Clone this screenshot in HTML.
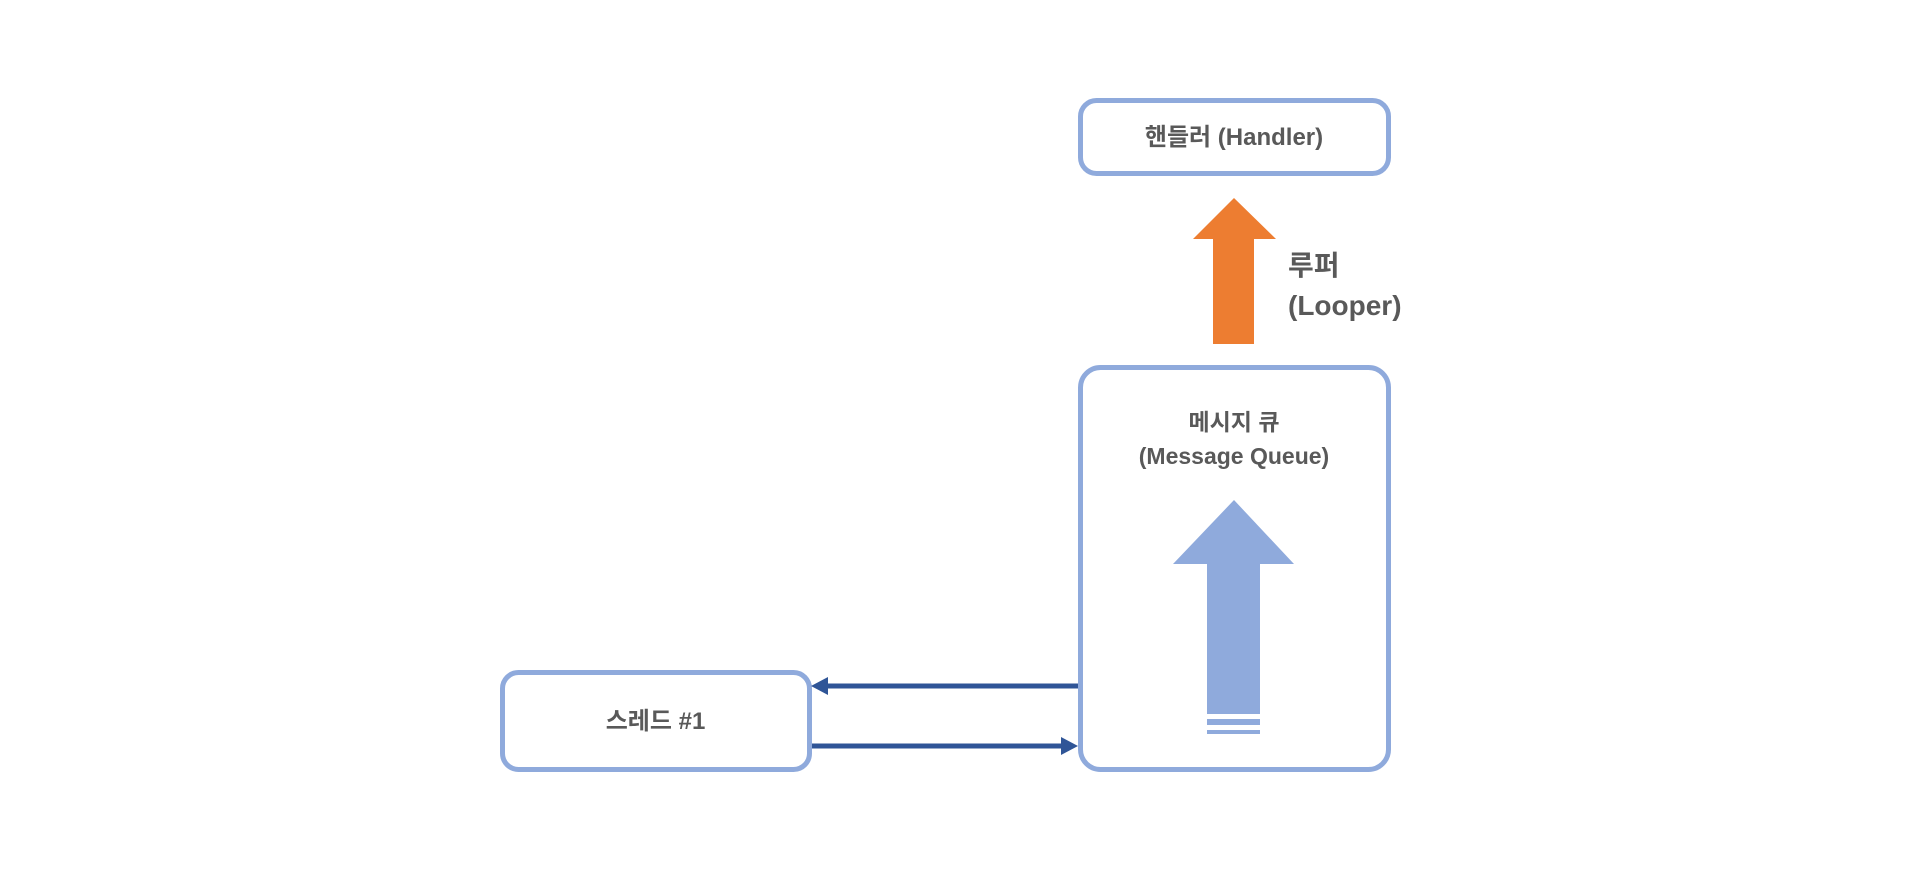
<!DOCTYPE html>
<html><head><meta charset="utf-8"><style>
html,body{margin:0;padding:0;background:#fff;width:1920px;height:892px;overflow:hidden}
.t{position:absolute;font-family:"Liberation Sans","Noto Sans CJK KR",sans-serif;font-weight:bold;color:#595959;white-space:nowrap}
</style></head><body>
<svg width="1920" height="892" style="position:absolute;left:0;top:0">
<rect x="1080.5" y="100.5" width="308" height="73" rx="16" fill="#fff" stroke="#8FAADC" stroke-width="5"/>
<rect x="1080.5" y="367.5" width="308" height="402" rx="20" fill="#fff" stroke="#8FAADC" stroke-width="5"/>
<rect x="502.5" y="672.5" width="307" height="97" rx="16" fill="#fff" stroke="#8FAADC" stroke-width="5"/>
<polygon points="1234,198 1276,239 1254,239 1254,344 1213,344 1213,239 1193,239" fill="#ED7D31"/>
<polygon points="1234,500 1294,564 1260,564 1260,714 1207,714 1207,564 1173,564" fill="#8FAADC"/>
<rect x="1207" y="719" width="53" height="6" fill="#8FAADC"/>
<rect x="1207" y="730" width="53" height="4" fill="#8FAADC"/>
<line x1="1078" y1="686" x2="826" y2="686" stroke="#2F5597" stroke-width="5"/>
<polygon points="811,686 828,677 828,695" fill="#2F5597"/>
<line x1="812" y1="746" x2="1062" y2="746" stroke="#2F5597" stroke-width="5"/>
<polygon points="1078,746 1061,737 1061,755" fill="#2F5597"/>
</svg>
<div class="t" style="left:1078px;width:312px;top:124px;font-size:24px;text-align:center;line-height:28px">핸들러 (Handler)</div>
<div class="t" style="left:1288px;top:246px;font-size:28px;line-height:40px">루퍼<br>(Looper)</div>
<div class="t" style="left:1078px;width:312px;top:405px;font-size:23px;text-align:center;line-height:34px">메시지 큐<br>(Message Queue)</div>
<div class="t" style="left:500px;width:311px;top:708px;font-size:24px;text-align:center;line-height:28px">스레드 #1</div>
</body></html>
